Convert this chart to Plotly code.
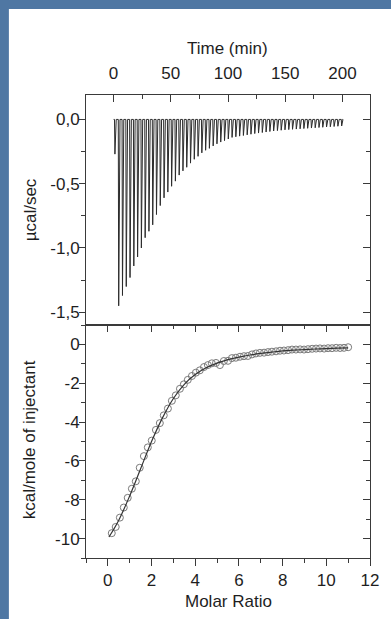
import plotly.graph_objects as go

# ---------------- data ----------------
# Raw thermogram: injection times (min) and peak depth (ucal/sec)
inj_time = [0.9, 4.2, 7.5, 10.8, 14.1, 17.4, 20.7, 24.0, 27.3, 30.6,
            33.9, 37.2, 40.5, 43.8, 47.1, 50.4, 53.7, 57.0, 60.3, 63.6,
            66.9, 70.2, 73.5, 76.8, 80.1, 83.4, 86.7, 90.0, 93.3, 96.6,
            99.9, 103.2, 106.5, 109.8, 113.1, 116.4, 119.7, 123.0, 126.3, 129.6,
            132.9, 136.2, 139.5, 142.8, 146.1, 149.4, 152.7, 156.0, 159.3, 162.6,
            165.9, 169.2, 172.5, 175.8, 179.1, 182.4, 185.7, 189.0, 192.3, 195.6,
            198.9]
peak_power = [-0.27, -1.45, -1.37, -1.30, -1.23, -1.14, -1.07, -1.00, -0.92, -0.87,
              -0.82, -0.74, -0.67, -0.61, -0.565, -0.52, -0.48, -0.433, -0.40, -0.372,
              -0.34, -0.31, -0.287, -0.26, -0.24, -0.225, -0.206, -0.19, -0.176, -0.165,
              -0.152, -0.14, -0.135, -0.13, -0.125, -0.12, -0.115, -0.11, -0.106, -0.102,
              -0.098, -0.094, -0.090, -0.087, -0.084, -0.081, -0.079, -0.077, -0.075, -0.073,
              -0.071, -0.069, -0.067, -0.065, -0.063, -0.061, -0.059, -0.057, -0.055, -0.053,
              -0.051]

# Integrated heats
molar_ratio = [0.18, 0.36, 0.55, 0.73, 0.91, 1.10, 1.28, 1.46, 1.65, 1.83,
               2.01, 2.20, 2.38, 2.56, 2.75, 2.93, 3.11, 3.30, 3.48, 3.66,
               3.85, 4.03, 4.21, 4.40, 4.58, 4.76, 4.95, 5.13, 5.31, 5.50,
               5.68, 5.86, 6.05, 6.23, 6.41, 6.60, 6.78, 6.96, 7.15, 7.33,
               7.51, 7.70, 7.88, 8.06, 8.25, 8.43, 8.61, 8.80, 8.98, 9.16,
               9.35, 9.53, 9.71, 9.90, 10.08, 10.26, 10.45, 10.63, 10.81, 11.00]
heat = [-9.72, -9.40, -8.92, -8.40, -7.90, -7.43, -7.05, -6.35, -5.75, -5.30,
        -4.95, -4.40, -4.05, -3.65, -3.30, -2.90, -2.62, -2.28, -2.05, -1.82,
        -1.62, -1.45, -1.33, -1.16, -1.06, -0.97, -0.95, -1.06, -0.85, -0.84,
        -0.70, -0.68, -0.63, -0.60, -0.59, -0.51, -0.46, -0.43, -0.42, -0.39,
        -0.37, -0.35, -0.32, -0.31, -0.29, -0.26, -0.26, -0.25, -0.26, -0.24,
        -0.22, -0.21, -0.20, -0.21, -0.19, -0.19, -0.17, -0.18, -0.17, -0.14]

fit_ratio = [0.05, 0.5, 1.0, 1.5, 2.0, 2.5, 3.0, 3.5, 4.0, 4.5, 5.0, 5.5,
             6.0, 6.5, 7.0, 7.5, 8.0, 8.5, 9.0, 9.5, 10.0, 10.5, 11.0]
fit_heat = [-9.92, -9.05, -7.80, -6.40, -5.00, -3.78, -2.78, -2.05, -1.55, -1.20, -0.96, -0.78,
            -0.65, -0.54, -0.46, -0.39, -0.33, -0.29, -0.26, -0.23, -0.21, -0.19, -0.17]

time_ticks = [0, 50, 100, 150, 200]
power_ticks = [0.0, -0.5, -1.0, -1.5]
power_labels = ["0,0", "-0,5", "-1,0", "-1,5"]
heat_ticks = [0, -2, -4, -6, -8, -10]
heat_labels = ["0", "-2", "-4", "-6", "-8", "-10"]
ratio_ticks = [0, 2, 4, 6, 8, 10, 12]

# ---------------- build thermogram line from injections ----------------
DROP = 0.35   # min to reach peak
RISE = 1.5    # min to return to baseline
tx, ty = [inj_time[0] - 0.8], [0.0]
for t, p in zip(inj_time, peak_power):
    tx += [t, t + DROP, t + RISE]
    ty += [0.0, p, 0.0]
tx.append(inj_time[-1] + 1.0)
ty.append(0.0)

AX = "#3a3a3a"
TXT = "#1e1e1e"
FONT = "Liberation Sans, Arial, sans-serif"
FS = 17
SPLIT = 0.503

fig = go.Figure()
fig.add_trace(go.Scatter(x=tx, y=ty, mode="lines", line=dict(color="#2b2b2b", width=1),
                         xaxis="x", yaxis="y", showlegend=False, hoverinfo="skip"))
fig.add_trace(go.Scatter(x=molar_ratio, y=heat, mode="markers",
                         marker=dict(symbol="circle-open", size=7, color="#7a7a7a",
                                     line=dict(width=1, color="#7a7a7a")),
                         xaxis="x2", yaxis="y2", showlegend=False))
fig.add_trace(go.Scatter(x=fit_ratio, y=fit_heat, mode="lines", line=dict(color="#333333", width=1.2, shape="spline"),
                         xaxis="x2", yaxis="y2", showlegend=False))
# dummy traces for overlay axes (mirrored inside ticks)
fig.add_trace(go.Scatter(x=[None], y=[None], xaxis="x", yaxis="y3", showlegend=False))
fig.add_trace(go.Scatter(x=[None], y=[None], xaxis="x3", yaxis="y2", showlegend=False))
fig.add_trace(go.Scatter(x=[None], y=[None], xaxis="x2", yaxis="y4", showlegend=False))

common = dict(showgrid=False, zeroline=False, showline=True, linecolor=AX, linewidth=1,
              tickcolor=AX, tickwidth=1, tickfont=dict(family=FONT, size=FS, color=TXT))

fig.update_layout(
    width=391, height=619,
    margin=dict(l=86, r=14, t=95, b=61),
    paper_bgcolor="#4f77a3", plot_bgcolor="white",
    font=dict(family=FONT, size=FS, color=TXT),
    xaxis=dict(**common, domain=[0, 1], anchor="y", side="top", range=[-24, 224],
               tickvals=time_ticks, ticks="inside", ticklen=7, mirror=True, ticklabelstandoff=8,
               minor=dict(dtick=25, tick0=0, ticks="inside", ticklen=4, tickcolor=AX)),
    yaxis=dict(**common, domain=[SPLIT, 1], anchor="x", range=[-1.6, 0.19],
               tickvals=power_ticks, ticktext=power_labels, ticks="outside", ticklen=6, mirror=True,
               ticklabelstandoff=-4,
               minor=dict(dtick=0.25, tick0=0, ticks="outside", ticklen=4, tickcolor=AX)),
    yaxis3=dict(**common, overlaying="y", side="right", anchor="x", range=[-1.6, 0.19],
                tickvals=power_ticks, showticklabels=False, ticks="inside", ticklen=7,
                minor=dict(dtick=0.25, tick0=0, ticks="inside", ticklen=4, tickcolor=AX)),
    xaxis2=dict(**common, domain=[0, 1], anchor="y2", side="bottom", range=[-1, 12],
                tickvals=ratio_ticks, ticks="outside", ticklen=7, mirror=True,
                minor=dict(dtick=1, tick0=0, ticks="outside", ticklen=4, tickcolor=AX)),
    xaxis3=dict(**common, overlaying="x2", side="top", anchor="y2", range=[-1, 12],
                tickvals=ratio_ticks, showticklabels=False, ticks="inside", ticklen=7,
                minor=dict(dtick=1, tick0=0, ticks="inside", ticklen=4, tickcolor=AX)),
    yaxis2=dict(**common, domain=[0, SPLIT], anchor="x2", range=[-11, 1],
                tickvals=heat_ticks, ticktext=heat_labels, ticks="outside", ticklen=6, mirror=True,
                ticklabelstandoff=-4,
                minor=dict(dtick=1, tick0=0, ticks="outside", ticklen=4, tickcolor=AX)),
    yaxis4=dict(**common, overlaying="y2", side="right", anchor="x2", range=[-11, 1],
                tickvals=heat_ticks, showticklabels=False, ticks="inside", ticklen=7,
                minor=dict(dtick=1, tick0=0, ticks="inside", ticklen=4, tickcolor=AX)),
    shapes=[dict(type="rect", xref="paper", yref="paper", x0=-0.2715, x1=1.1, y0=-0.2, y1=1.1857,
                 fillcolor="white", line=dict(width=0), layer="below")],
    annotations=[
        dict(text="Time (min)", xref="paper", yref="paper", x=0.498, y=1.1015, showarrow=False,
             xanchor="center", yanchor="middle", font=dict(size=FS, color=TXT, family=FONT)),
        dict(text="Molar Ratio", xref="paper", yref="paper", x=0.502, y=-0.094, showarrow=False,
             xanchor="center", yanchor="middle", font=dict(size=FS, color=TXT, family=FONT)),
        dict(text="µcal/sec", xref="paper", yref="paper", x=-0.196, y=0.7516, showarrow=False,
             textangle=-90, xanchor="center", yanchor="middle", font=dict(size=FS, color=TXT, family=FONT)),
        dict(text="kcal/mole of injectant", xref="paper", yref="paper", x=-0.196, y=0.2549,
             showarrow=False, textangle=-90, xanchor="center", yanchor="middle",
             font=dict(size=FS, color=TXT, family=FONT)),
    ],
)

fig.write_html("out.html", config={"displayModeBar": False},
               post_script="document.body.style.margin='0';document.body.style.background='#4f77a3';")
